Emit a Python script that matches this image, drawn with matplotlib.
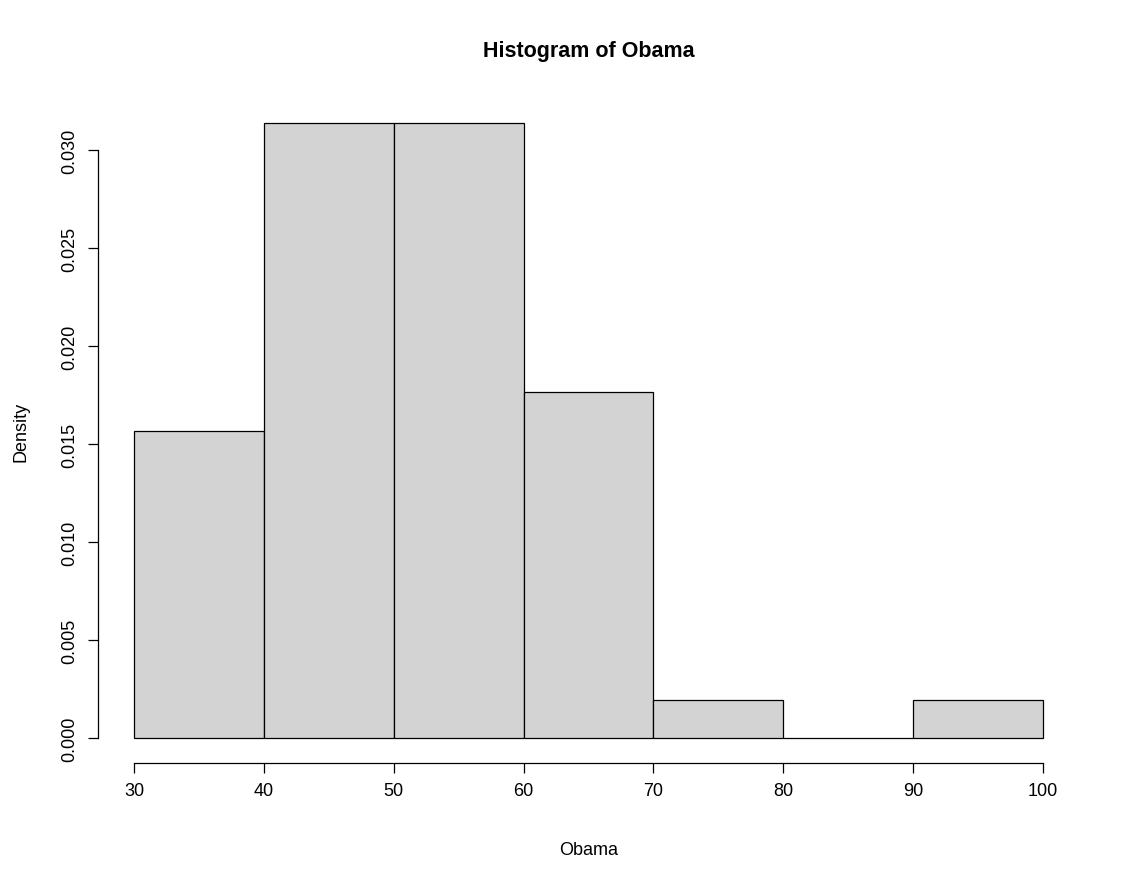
import numpy as np
import matplotlib
matplotlib.use("Agg")
import matplotlib.pyplot as plt

# histogram of Obama vote share, bins of width 10
bin_edges = [30, 40, 50, 60, 70, 80, 90, 100]
counts = [8, 16, 16, 9, 1, 0, 1]
x_ticks = [30, 40, 50, 60, 70, 80, 90, 100]
y_ticks = [0.000, 0.005, 0.010, 0.015, 0.020, 0.025, 0.030]
y_tick_labels = ["0.000", "0.005", "0.010", "0.015", "0.020", "0.025", "0.030"]

plt.rcParams["font.family"] = ["Liberation Sans", "DejaVu Sans"]

fig = plt.figure(figsize=(11.3, 8.87), dpi=100)
left, right, bottom, top = 0.0864, 0.9552, 0.1391, 0.8878
ax = fig.add_axes([left, bottom, right - left, top - bottom])

centers = [(a + b) / 2 for a, b in zip(bin_edges[:-1], bin_edges[1:])]
ax.hist(centers, bins=bin_edges, weights=counts, density=True,
        facecolor="#D3D3D3", edgecolor="black", linewidth=0.9)

ax.set_xlim(27.2, 102.8)
ax.set_ylim(-0.001255, 0.03263)

for s in ["top", "right"]:
    ax.spines[s].set_visible(False)
ax.spines["left"].set_bounds(0, 0.030)
ax.spines["bottom"].set_bounds(30, 100)
ax.spines["left"].set_linewidth(0.9)
ax.spines["bottom"].set_linewidth(0.9)

ax.set_xticks(x_ticks)
ax.set_yticks(y_ticks)
ax.set_yticklabels(y_tick_labels, rotation=90, va="center")
ax.tick_params(axis="both", length=7, width=0.9, labelsize=13, pad=7)

ax.set_xlabel("Obama", fontsize=13, labelpad=30)
ax.set_ylabel("Density", fontsize=13, labelpad=23)
fig.text((left + right) / 2, 1 - 52 / 887, "Histogram of Obama",
         fontsize=15.5, fontweight="bold", ha="center", va="center")

fig.savefig("out.png", dpi=100)
